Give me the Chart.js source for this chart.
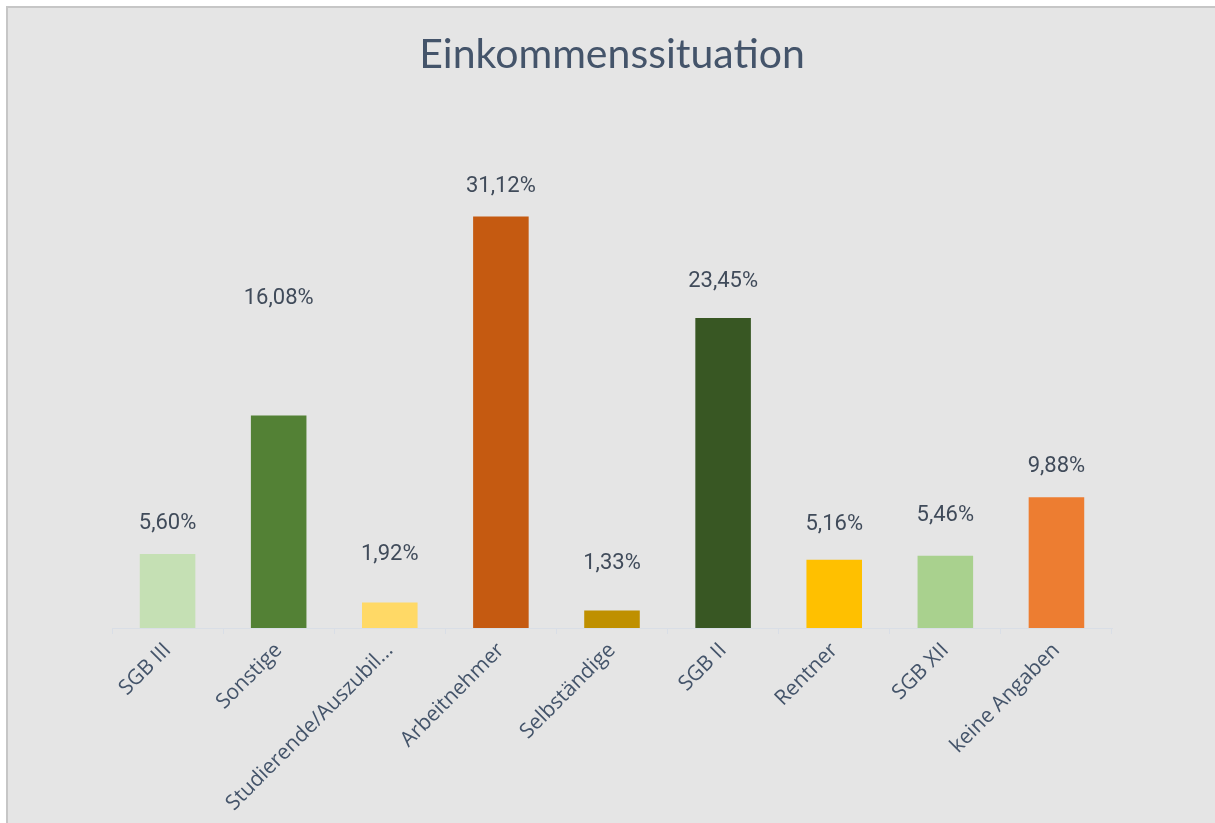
<!DOCTYPE html>
<html>
<head>
<meta charset="utf-8">
<script src="https://cdn.jsdelivr.net/npm/chart.js@4.4.0/dist/chart.umd.min.js"></script>
<style>
html,body{margin:0;padding:0;background:#fff;width:1215px;height:823px;overflow:hidden}
#panel{position:absolute;left:6px;top:6px;right:0;bottom:0;background:#e5e5e5;border-left:2px solid #c6c6c6;border-top:2px solid #c6c6c6}
#wrap{position:absolute;left:0;top:0;width:1215px;height:823px}
</style>
</head>
<body>
<div id="panel"></div>
<div id="wrap"><canvas id="chart"></canvas></div>
<script>
/* DATA */
const categories = ["SGB III","Sonstige","Studierende/Auszubil...","Arbeitnehmer","Selbständige","SGB II","Rentner","SGB XII","keine Angaben"]
const values = [5.60,16.08,1.92,31.12,1.33,23.45,5.16,5.46,9.88]
const barColors = ["#c5e0b4","#538135","#ffd966","#c55a11","#bf9000","#385723","#ffc000","#a9d18e","#ed7d31"]

const textColor = "#44546a"
// gap between bar top and label centre, as placed in the original
const labelGap = [30,117,48,30,47,36,35,40,31]

/* LABELS ABOVE BARS */
const valueLabels = {
id:"valueLabels",
afterDatasetsDraw(chart){
const ctx = chart.ctx
const meta = chart.getDatasetMeta(0)
ctx.save()
ctx.font = "22px Roboto"
ctx.fillStyle = "#404b5a"
ctx.textAlign = "center"
ctx.textBaseline = "middle"
meta.data.forEach((bar,i)=>{
ctx.fillText(values[i].toFixed(2).replace(".",",")+"%", bar.x, bar.y-labelGap[i])
})
ctx.restore()
}
}

new Chart(document.getElementById("chart"),{
type:"bar",
data:{labels:categories,datasets:[{data:values,backgroundColor:barColors,barPercentage:0.5,categoryPercentage:1}]},
options:{
responsive:true,
maintainAspectRatio:false,
animation:false,
layout:{padding:{left:112,right:103,top:0,bottom:0}},
plugins:{
legend:{display:false},
tooltip:{enabled:false},
title:{display:true,text:"Einkommenssituation",color:textColor,
font:{family:"Lato",size:41,weight:"normal",lineHeight:1.2},
padding:{top:30,bottom:86}}
},
scales:{
y:{display:false,min:0,max:35},
x:{
afterFit:s=>{s.height=195},
border:{display:true,color:"#d9dee6",width:1},
grid:{offset:true,drawOnChartArea:false,drawTicks:true,tickLength:6,color:"#d9dee6"},
ticks:{color:textColor,font:{family:"Open Sans",size:21},minRotation:45,maxRotation:45,padding:4}
}
}
},
plugins:[valueLabels]
})
</script>
</body>
</html>
